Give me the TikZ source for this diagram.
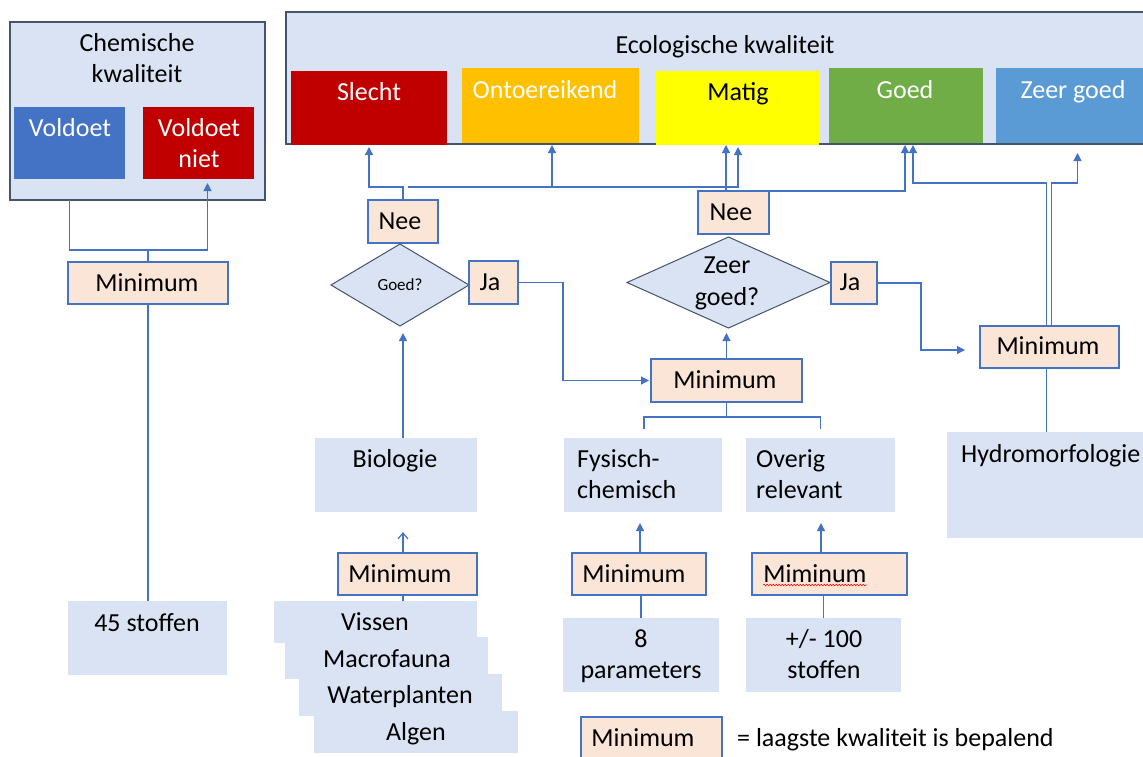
\documentclass[tikz,border=0pt]{standalone}
\usepackage{fontspec}
\setmainfont{Carlito}
\usetikzlibrary{arrows.meta,shapes.geometric,decorations.pathmorphing}

\definecolor{paleblue}{HTML}{DAE3F3}
\definecolor{peach}{HTML}{FBE5D6}
\definecolor{linkblue}{HTML}{4472C4}
\definecolor{slate}{HTML}{44546A}
\definecolor{darkred}{HTML}{C00000}
\definecolor{amber}{HTML}{FFC000}
\definecolor{lemon}{HTML}{FFFF00}
\definecolor{leaf}{HTML}{70AD47}
\definecolor{sky}{HTML}{5B9BD5}

\tikzset{
  wh/.style 2 args={minimum width=#1pt, minimum height=#2pt},
  cell/.style={rectangle, inner sep=0pt, outer sep=0pt, anchor=north west},
  panel/.style={cell, fill=paleblue, draw=slate, line width=1.5pt},
  plain/.style={cell, fill=paleblue},
  minbox/.style={cell, fill=peach, draw=linkblue, line width=1.3pt},
  grade/.style={cell, fill=#1},
  question/.style={diamond, fill=paleblue, draw=slate, line width=1pt, inner sep=0pt, outer sep=0pt},
  txt/.style={inner sep=0pt, anchor=base, align=center, font=\fontsize{26}{31}\selectfont},
  ltxt/.style={txt, anchor=base west, align=left},
  wtxt/.style={txt, text=white},
  conn/.style={draw=linkblue, line width=1.2pt},
  arr/.style={conn, -{Triangle[width=8pt,length=8pt]}},
  openarr/.style={conn, -{Straight Barb[width=10pt,length=6pt]}}
}

\begin{document}
\begin{tikzpicture}[x=1pt, y=-1pt]
\path[use as bounding box] (0,0) rectangle (1143,756);

% multi-line text nodes are placed by the baseline of their last line

% ---------- chemical quality ----------
\node[panel, wh={255}{178}] (chem) at (10,22) {};
\node[grade=linkblue, wh={111}{72}] (vold) at (14,107) {};
\node[grade=darkred, wh={111}{72}] (vniet) at (143,107) {};
\node[txt] (tChem) at (137,82) {Chemische\\kwaliteit};
\node[wtxt] (tVold) at (70,136) {Voldoet};
\node[wtxt] (tVniet) at (199,167) {Voldoet\\niet};

\node[minbox, wh={160}{42}] (minC) at (68,262) {};
\node[txt] (tMinC) at (147,291) {Minimum};
\node[plain, wh={159}{74}] (s45) at (68,601) {};
\node[txt] (t45) at (147,631) {45 stoffen};

% ---------- ecological quality ----------
\node[panel, wh={870}{132}] (eco) at (286,12) {};
\node[txt] (tEco) at (725,53) {Ecologische kwaliteit};
\node[grade=darkred, wh={156}{74}] (slecht) at (291,71) {};
\node[grade=amber, wh={177}{75}] (onto) at (462,68) {};
\node[grade=lemon, wh={163}{74}] (matig) at (656,71) {};
\node[grade=leaf, wh={154}{75}] (goed) at (829,68) {};
\node[grade=sky, wh={160}{75}] (zeer) at (996,68) {};
\node[wtxt] (tSlecht) at (369,100) {Slecht};
\node[wtxt] (tOnto) at (545,98) {Ontoereikend};
\node[txt] (tMatig) at (738,100) {Matig};
\node[wtxt] (tGoed) at (905,98) {Goed};
\node[wtxt] (tZeer) at (1073,98) {Zeer goed};

% ---------- decisions ----------
\node[minbox, wh={70}{43}] (neeL) at (368,200) {};
\node[txt] (tNeeL) at (400,229) {Nee};
\node[question, wh={138}{82}] (gq) at (400,285) {};
\node[txt, font=\fontsize{17}{20}\selectfont] (tGq) at (400,290) {Goed?};
\node[minbox, wh={49}{43}] (jaL) at (469,261) {};
\node[txt] (tJaL) at (490,290) {Ja};

\node[minbox, wh={71}{43}] (neeR) at (698,191) {};
\node[txt] (tNeeR) at (731,220) {Nee};
\node[question, wh={203}{91}] (zg) at (728.5,282.5) {};
\node[txt, font=\fontsize{26}{32}\selectfont] (tZg) at (727,305) {Zeer\\goed?};
\node[minbox, wh={46}{42}] (jaR) at (831,262) {};
\node[txt] (tJaR) at (850,290) {Ja};

\node[minbox, wh={151}{43}] (minM) at (651,359) {};
\node[txt] (tMinM) at (725,388) {Minimum};
\node[minbox, wh={139}{42}] (minH) at (980,326) {};
\node[txt] (tMinH) at (1048,354) {Minimum};

% ---------- quality elements ----------
\node[plain, wh={162}{74}] (bio) at (315,438) {};
\node[txt] (tBio) at (395,467) {Biologie};
\node[plain, wh={158}{74}] (fc) at (564,438) {};
\node[ltxt] (tFc) at (577,498) {Fysisch-\\chemisch};
\node[plain, wh={149}{74}] (ov) at (746,438) {};
\node[ltxt] (tOv) at (756,498) {Overig\\relevant};
\node[plain, wh={210}{106}] (hyd) at (947,432) {};
\node[ltxt] (tHyd) at (961,462) {Hydromorfologie};

\node[minbox, wh={139}{42}] (minB) at (338,553) {};
\node[txt] (tMinB) at (400,582) {Minimum};
\node[minbox, wh={134}{42}] (minF) at (572,553) {};
\node[txt] (tMinF) at (634,582) {Minimum};
\node[minbox, wh={155}{42}] (minO) at (752,553) {};
\node[txt] (tMinO) at (815,582) {Miminum};
\draw[red, line width=0.6pt, decorate, decoration={snake, amplitude=0.8pt, segment length=3pt}]
  ([yshift=-3pt]tMinO.base west) -- ([yshift=-3pt]tMinO.base east);

% biological groups, stacked
\node[plain, wh={203}{42}] (vis) at (274,601) {};
\node[plain, wh={203}{42}] (mac) at (285,637) {};
\node[plain, wh={203}{42}] (wat) at (299,674) {};
\node[plain, wh={204}{42}] (alg) at (314,711) {};
\node[txt] (tVis) at (375,630) {Vissen};
\node[txt] (tMac) at (387,667) {Macrofauna};
\node[txt] (tWat) at (400,703) {Waterplanten};
\node[txt] (tAlg) at (416,740) {Algen};

\node[plain, wh={156}{74}] (p8) at (563,618) {};
\node[txt] (tP8) at (641,678) {8\\parameters};
\node[plain, wh={155}{74}] (s100) at (746,618) {};
\node[txt] (tS100) at (824,678) {+/- 100\\stoffen};

% ---------- legend ----------
\node[minbox, wh={141}{45}] (leg) at (581,717) {};
\node[txt] (tLeg) at (643,746) {Minimum};
\node[ltxt] (tLegTxt) at (737,746) {= laagste kwaliteit is bepalend};

% ---------- connectors: chemical ----------
\coordinate (cj) at (minC.north |- 0,250);
\draw[conn] (minC.north) -- (cj) -| (vold.south |- chem.south);
\draw[arr, shorten >=4pt] (cj) -| ([xshift=9pt]vniet.south);
\draw[conn] (minC.south) -- (minC.south |- s45.north);

% ---------- connectors: left "Nee" ----------
\coordinate (nl) at (neeL.north |- 0,187);
\draw[arr, shorten >=2pt] (neeL.north) -- (nl) -| (slecht.south);
\draw[arr, shorten >=2pt] ([xshift=5pt]nl) -| ([xshift=1.5pt]onto.south);
\draw[arr, shorten >=2pt] ([xshift=5pt]nl) -| ([xshift=0.5pt]matig.south);

% ---------- connectors: right "Nee" ----------
\draw[arr] ([xshift=-7.5pt]neeR.north) -- ([xshift=-7.5pt]neeR.north |- matig.south);
\draw[arr, shorten >=2pt] (neeR.north) -| ([xshift=-1pt]goed.south);

% ---------- connectors: hydromorphology minimum ----------
\draw[arr, shorten >=2pt] ([xshift=-3pt]minH.north) -- ++(0,-143) -| ([xshift=7pt]goed.south);
\draw[arr, shorten >=10pt] ([xshift=2pt]minH.north) -- ++(0,-143) -| ([xshift=1.5pt]zeer.south);
\draw[arr, shorten >=15pt] (jaR.east) -- ++(44,0) |- ([yshift=-3pt]minH.west);
\draw[conn] ([xshift=-3pt]minH.south) -- ([xshift=-3pt]minH.south |- hyd.north);

% ---------- connectors: decisions ----------
\draw[arr, shorten >=2pt] (jaL.east) -- ++(45,0) |- (minM.west);
\draw[arr, shorten >=5pt] (minM.north) -- (minM.north |- zg.south);
\draw[arr, shorten >=7pt] (bio.north -| gq.south) ++(3pt,0) -- ([xshift=3pt]gq.south);

% ---------- connectors: quality elements ----------
\draw[openarr, shorten >=20pt] ([xshift=-4.5pt]minB.north) -- ([xshift=-4.5pt]minB.north |- bio.south);
\draw[conn] ([xshift=-4.5pt]minB.south) -- ([xshift=-4.5pt]minB.south |- vis.north);

\coordinate (bj) at ([yshift=-15pt]minM.south);
\draw[conn] (minM.south) -- (bj);
\draw[conn] (bj) -| ([xshift=1pt,yshift=9pt]fc.north);
\draw[conn] (bj) -| ([yshift=9pt]ov.north);

\draw[arr, shorten >=11pt] ([xshift=1pt]minF.north) -- ([xshift=1pt]minF.north |- fc.south);
\draw[conn] ([xshift=2pt]minF.south) -- ([xshift=2pt]minF.south |- p8.north);
\draw[arr, shorten >=11pt] ([xshift=-8.5pt]minO.north) -- ([xshift=-8.5pt]minO.north |- ov.south);
\draw[conn] (s100.north |- minO.south) -- (s100.north);

\end{tikzpicture}
\end{document}
